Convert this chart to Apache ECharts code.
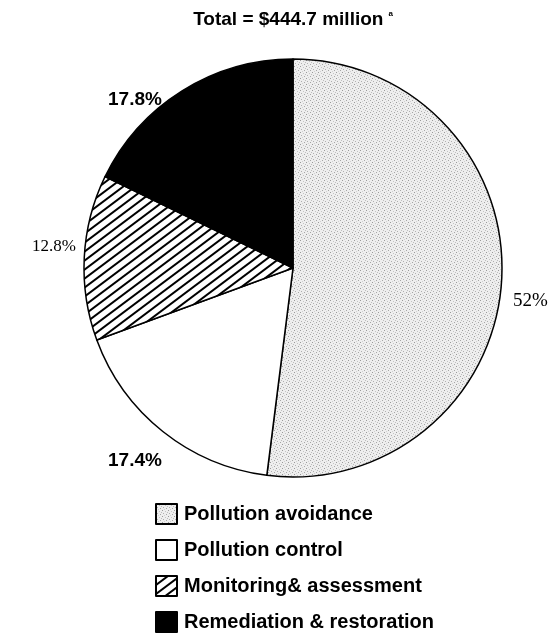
<!DOCTYPE html>
<html>
<head>
<meta charset="utf-8">
<script src="https://cdn.jsdelivr.net/npm/echarts@6/dist/echarts.min.js"></script>
<style>
  html, body { margin: 0; padding: 0; background: #fff; }
  #chart { width: 557px; height: 634px; }
</style>
</head>
<body>
<div id="chart"></div>
<script>
// categories and shares (percent of total)
const categories = ['Pollution avoidance', 'Pollution control', 'Monitoring& assessment', 'Remediation & restoration'];
const shares = [52, 17.4, 12.8, 17.8];
const shareLabels = ['52%', '17.4%', '12.8%', '17.8%'];

// dotted light gray tile
function dotTile() {
  const c = document.createElement('canvas');
  c.width = 6; c.height = 6;
  const ctx = c.getContext('2d');
  ctx.fillStyle = '#eeeeee';
  ctx.fillRect(0, 0, 6, 6);
  const dots = [[0, 0, '#9a9a9a'], [3, 1, '#c4c4c4'], [1, 3, '#b0b0b0'], [4, 4, '#a6a6a6'], [2, 5, '#d0d0d0'], [5, 2, '#bdbdbd']];
  dots.forEach(d => { ctx.fillStyle = d[2]; ctx.fillRect(d[0], d[1], 1, 1); });
  return c;
}

// diagonal hatch tile "/"
function hatchTile() {
  const w = 12, h = 9;
  const c = document.createElement('canvas');
  c.width = w; c.height = h;
  const ctx = c.getContext('2d');
  ctx.fillStyle = '#ffffff';
  ctx.fillRect(0, 0, w, h);
  ctx.strokeStyle = '#000';
  ctx.lineWidth = 2;
  for (let k = -1; k <= 1; k++) {
    ctx.beginPath();
    ctx.moveTo(-w + k * w, 2 * h);
    ctx.lineTo(2 * w + k * w, -h);
    ctx.stroke();
  }
  return c;
}

const fills = [
  { image: dotTile(), repeat: 'repeat' },
  '#ffffff',
  { image: hatchTile(), repeat: 'repeat' },
  '#000000'
];

// label placement and styles
const labelPos = [
  { x: 513, y: 301, align: 'left' },
  { x: 108, y: 461, align: 'left' },
  { x: 76, y: 247, align: 'right' },
  { x: 108, y: 100, align: 'left' }
];
const labelFonts = [
  { fontFamily: 'Liberation Serif', fontWeight: 'normal', fontSize: 19 },
  { fontFamily: 'Liberation Sans', fontWeight: 'bold', fontSize: 19 },
  { fontFamily: 'Liberation Serif', fontWeight: 'normal', fontSize: 17 },
  { fontFamily: 'Liberation Sans', fontWeight: 'bold', fontSize: 19 }
];

const chart = echarts.init(document.getElementById('chart'));
chart.setOption({
  backgroundColor: '#fff',
  animation: false,
  title: {
    text: '{t|Total = $444.7 million} {s|a}',
    left: 288,
    textAlign: 'center',
    top: 5,
    textStyle: {
      rich: {
        t: { fontFamily: 'Liberation Sans', fontWeight: 'bold', fontSize: 19, color: '#000' },
        s: { fontFamily: 'Liberation Sans', fontSize: 8, color: '#000', verticalAlign: 'top', padding: [0, 0, 10, 0] }
      }
    }
  },
  legend: {
    orient: 'vertical',
    left: 150,
    top: 498,
    height: 140,
    itemWidth: 21,
    itemHeight: 20,
    itemGap: 14,
    icon: 'rect',
    textStyle: { fontFamily: 'Liberation Sans', fontWeight: 'bold', fontSize: 20, lineHeight: 20, color: '#000', padding: [0, 0, 0, 2] },
    data: categories
  },
  series: [{
    type: 'pie',
    center: [293, 268],
    radius: 209,
    startAngle: 90,
    clockwise: true,
    silent: true,
    itemStyle: { borderColor: '#000', borderWidth: 1.5 },
    labelLine: { show: false },
    labelLayout: function (p) {
      const lp = labelPos[p.dataIndex];
      return { x: lp.x, y: lp.y, align: lp.align, verticalAlign: 'middle' };
    },
    data: categories.map((name, i) => ({
      name: name,
      value: shares[i],
      itemStyle: { color: fills[i] },
      label: {
        show: true,
        position: 'outside',
        alignTo: 'none',
        overflow: 'none',
        width: 80,
        formatter: shareLabels[i],
        color: '#000',
        fontSize: labelFonts[i].fontSize,
        fontFamily: labelFonts[i].fontFamily,
        fontWeight: labelFonts[i].fontWeight
      }
    }))
  }]
});
</script>
</body>
</html>
